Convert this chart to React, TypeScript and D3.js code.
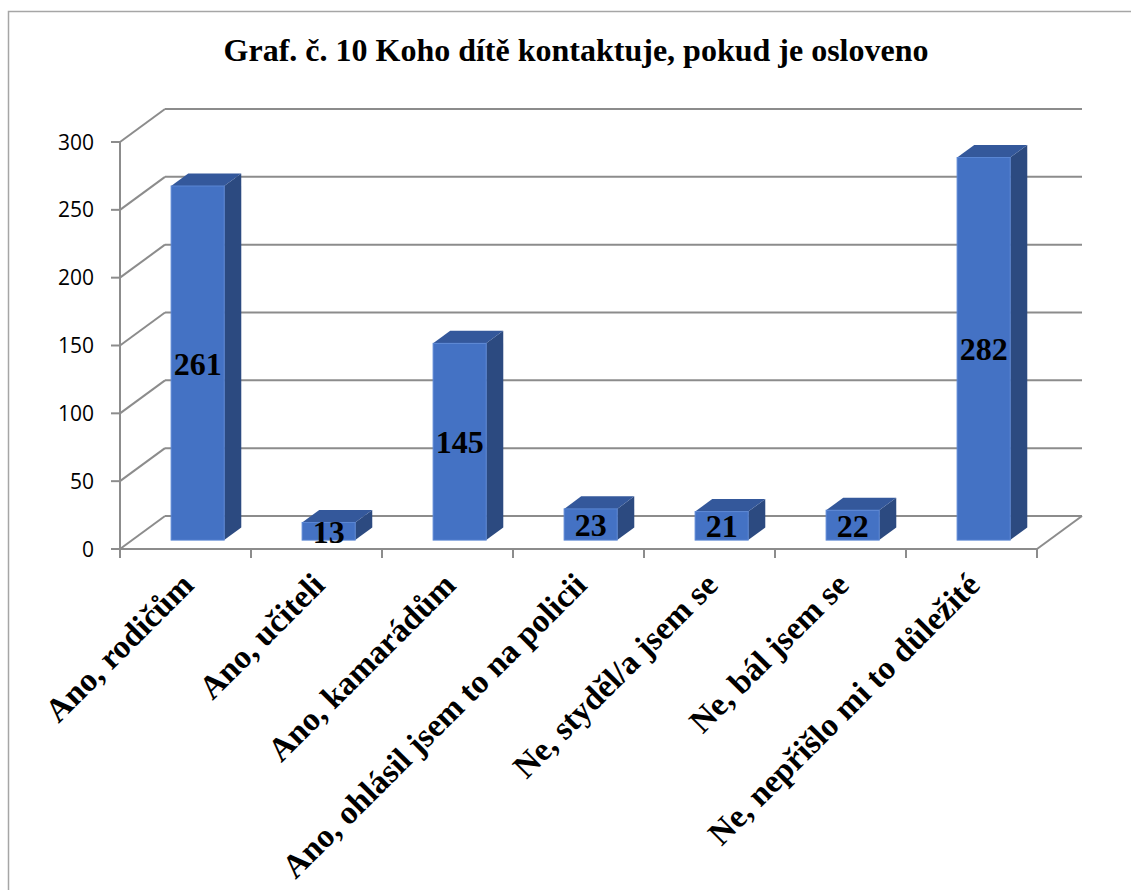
import React from "react";
import * as d3 from "d3";

const title = "Graf. č. 10 Koho dítě kontaktuje, pokud je osloveno";
const categories = [
  "Ano, rodičům",
  "Ano, učiteli",
  "Ano, kamarádům",
  "Ano, ohlásil jsem to na policii",
  "Ne, styděl/a jsem se",
  "Ne, bál jsem se",
  "Ne, nepřišlo mi to důležité",
];
const values = [261, 13, 145, 23, 21, 22, 282];
const yTicks = [0, 50, 100, 150, 200, 250, 300];

const W = 1131;
const H = 890;
const X0 = 120;
const X1 = 1037;
const Y0 = 549;
const Y1 = 142;
const DX = 45;
const DY = -33;
const F0 = 0.27;
const F1 = 0.65;
const BAR_FRAC = 0.405;

export default function App() {
  const x = d3.scaleBand<string>().domain(categories).range([X0, X1]).padding(0);
  const y = d3.scaleLinear().domain([0, 300]).range([Y0, Y1]);
  const bw = x.bandwidth();
  const grid = "#8c8c8c";
  const serif = "'Liberation Serif', 'Times New Roman', serif";
  const sans = "'Open Sans', 'Liberation Sans', sans-serif";

  const bars = categories.map((c, i) => {
    const v = values[i];
    const cx = (x(c) as number) + bw / 2 + F0 * DX;
    const w = bw * BAR_FRAC;
    const fx0 = cx - w / 2;
    const fx1 = cx + w / 2;
    const fyT = y(v) + F0 * DY;
    const fyB = y(0) + F0 * DY;
    const ddx = (F1 - F0) * DX;
    const ddy = (F1 - F0) * DY;
    return { c, v, cx, fx0, fx1, fyT, fyB, ddx, ddy };
  });

  return (
    <svg width={W} height={H} style={{ position: "absolute", left: 0, top: 0, background: "#fff" }}>
      <rect x={8.5} y={11.5} width={1140} height={900} fill="#fff" stroke="#a6a6a6" strokeWidth={1.5} />
      <text x={576} y={61} textAnchor="middle" fontFamily={serif} fontWeight="bold" fontSize={32} fill="#000">
        {title}
      </text>
      {/* back wall grid lines and side wall diagonals */}
      {yTicks.map((t) => (
        <g key={t}>
          <line x1={X0 + DX} x2={X1 + DX} y1={y(t) + DY} y2={y(t) + DY} stroke={grid} strokeWidth={2} />
          <line x1={X0} x2={X0 + DX} y1={y(t)} y2={y(t) + DY} stroke={grid} strokeWidth={2} />
          <line x1={X0 - 9} x2={X0} y1={y(t)} y2={y(t)} stroke={grid} strokeWidth={2} />
          <text x={94} y={y(t)} dy="0.36em" textAnchor="end" fontFamily={sans} fontSize={21} fill="#000">
            {t}
          </text>
        </g>
      ))}
      {/* floor */}
      <line x1={X0} x2={X1} y1={Y0} y2={Y0} stroke={grid} strokeWidth={2} />
      <line x1={X1} x2={X1 + DX} y1={Y0} y2={Y0 + DY} stroke={grid} strokeWidth={2} />
      <line x1={X0} x2={X0} y1={Y1} y2={Y0} stroke={grid} strokeWidth={2} />
      {d3.range(categories.length + 1).map((i) => (
        <line key={i} x1={X0 + i * bw} x2={X0 + i * bw} y1={Y0} y2={Y0 + 9} stroke={grid} strokeWidth={2} />
      ))}
      {/* bars */}
      {bars.map((b) => (
        <g key={b.c}>
          <polygon
            points={`${b.fx1},${b.fyT} ${b.fx1 + b.ddx},${b.fyT + b.ddy} ${b.fx1 + b.ddx},${b.fyB + b.ddy} ${b.fx1},${b.fyB}`}
            fill="#2c4a80"
          />
          <polygon
            points={`${b.fx0},${b.fyT} ${b.fx0 + b.ddx},${b.fyT + b.ddy} ${b.fx1 + b.ddx},${b.fyT + b.ddy} ${b.fx1},${b.fyT}`}
            fill="#34589b"
          />
          <rect x={b.fx0} y={b.fyT} width={b.fx1 - b.fx0} height={b.fyB - b.fyT} fill="#4472c4" stroke="#5a86d4" strokeWidth={1} />
          <text
            x={b.cx}
            y={(b.fyT + b.fyB) / 2}
            dy="0.36em"
            textAnchor="middle"
            fontFamily={serif}
            fontWeight="bold"
            fontSize={32}
            fill="#000"
          >
            {b.v}
          </text>
        </g>
      ))}
      {/* category labels */}
      {categories.map((c) => (
        <text
          key={c}
          transform={`translate(${(x(c) as number) + bw / 2 + 10},${587}) rotate(-45)`}
          textAnchor="end"
          fontFamily={serif}
          fontWeight="bold"
          fontSize={33}
          fill="#000"
        >
          {c}
        </text>
      ))}
    </svg>
  );
}
